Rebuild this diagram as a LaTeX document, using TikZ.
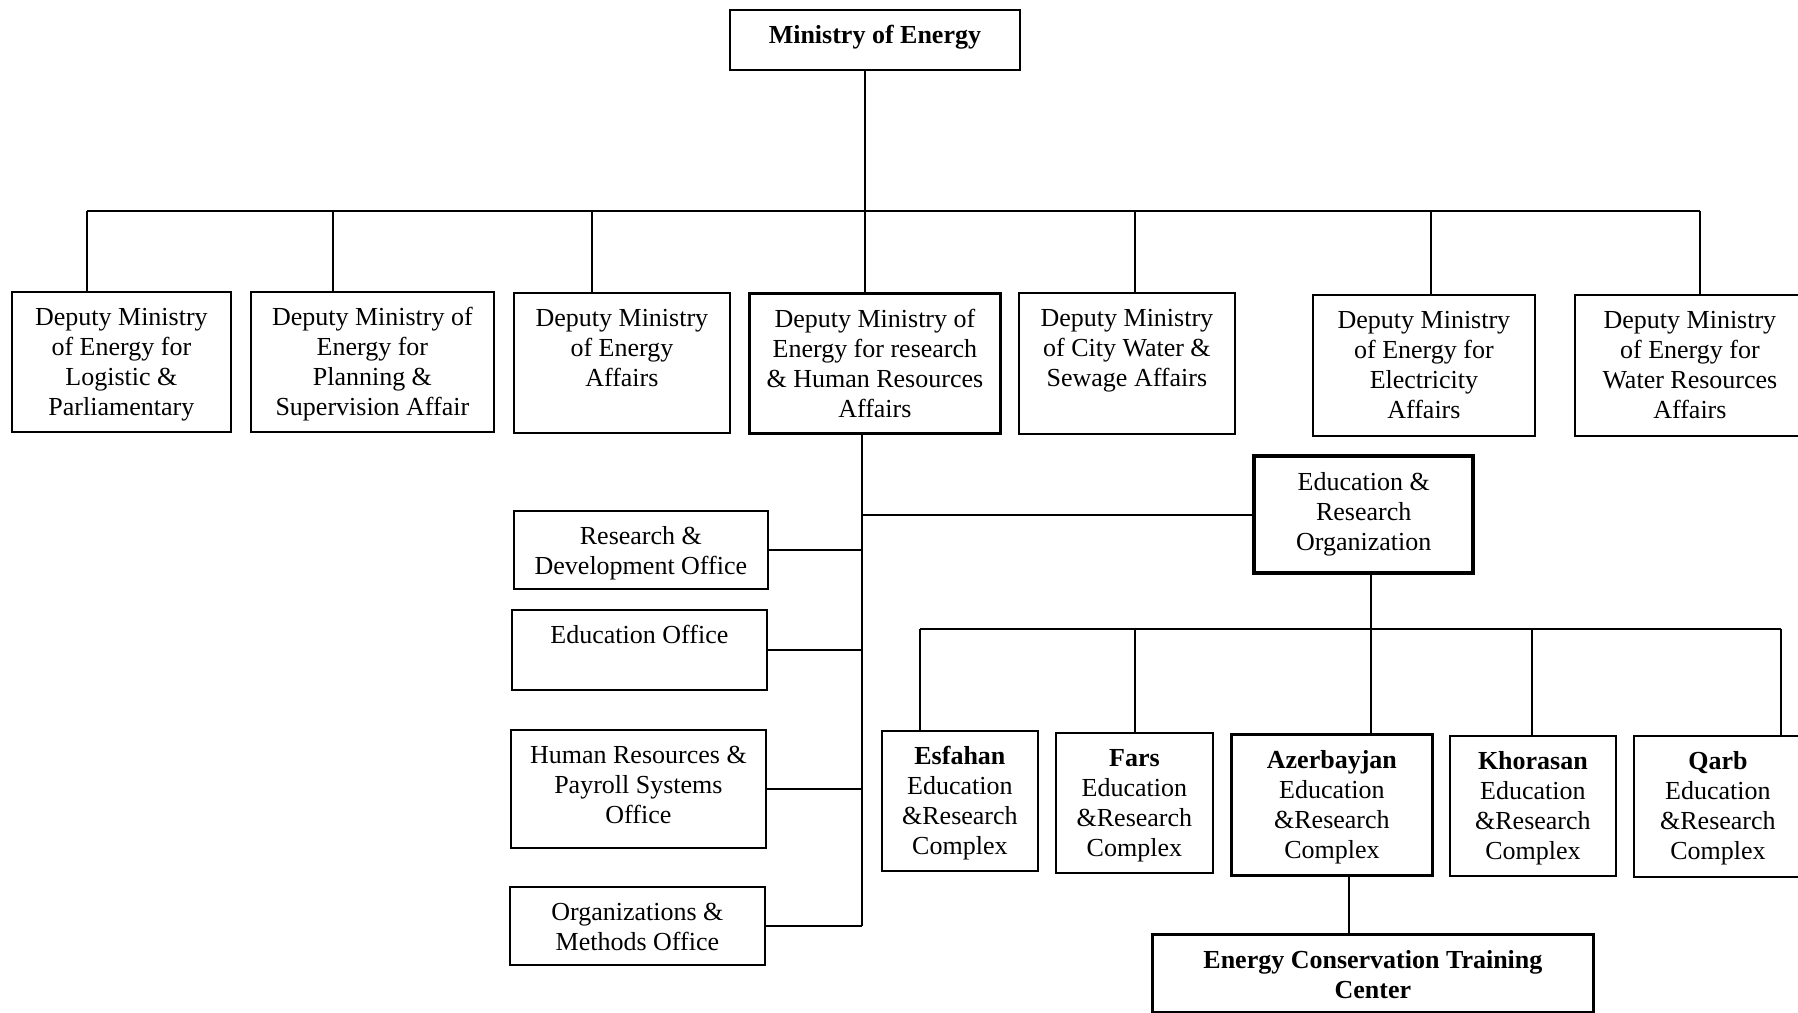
\documentclass[tikz,border=0pt]{standalone}
\usepackage{fontspec}
\setmainfont{Liberation Serif}
\newcommand{\bt}[3]{\parbox[c][#2pt][t]{#1pt}{\centering\rule{0pt}{17pt}#3}}
\tikzset{
  box/.style={draw, line width=0.9pt, inner sep=0pt, anchor=north west, font=\fontsize{13}{15}\selectfont},
  thickbox/.style={box, line width=1.4pt},
  heavybox/.style={box, line width=2.2pt},
  conn/.style={line width=0.7pt},
  bus/.style={line width=1pt}
}
\begin{document}
\begin{tikzpicture}[x=1pt,y=-1pt]
\useasboundingbox (0,0) rectangle (899,506);
% top
\node[box] (M) at (364.5,4.5) {\bt{145}{30}{\textbf{Ministry of Energy}}};
% level 2
\node[box] (B1) at (5.5,145.5) {\bt{109.5}{70}{Deputy Ministry\\ of Energy for\\ Logistic \&\\ Parliamentary}};
\node[box] (B2) at (125,145.5) {\bt{121.5}{70}{Deputy Ministry of\\ Energy for\\ Planning \&\\ Supervision Affair}};
\node[box] (B3) at (256.5,146) {\bt{108}{70}{Deputy Ministry\\ of Energy\\ Affairs}};
\node[thickbox] (B4) at (374,146) {\bt{125.5}{70}{Deputy Ministry of\\ Energy for research\\ \& Human Resources\\ Affairs}};
\node[box] (B5) at (509,146) {\bt{108}{70.5}{Deputy Ministry\\ of City Water \&\\ Sewage Affairs}};
\node[box] (B6) at (656,147) {\bt{111}{70.5}{Deputy Ministry\\ of Energy for\\ Electricity\\ Affairs}};
\node[box] (B7) at (787,147) {\bt{115}{70.5}{Deputy Ministry\\ of Energy for\\ Water Resources\\ Affairs}};
% left column
\node[box] (RD) at (256.5,255) {\bt{127}{39}{Research \&\\ Development Office}};
\node[box] (EO) at (255.5,304.5) {\bt{127.5}{40}{Education Office}};
\node[box] (HR) at (255,364.5) {\bt{127.5}{59}{Human Resources \&\\ Payroll Systems\\ Office}};
\node[box] (OM) at (254.5,443) {\bt{127.5}{39}{Organizations \&\\ Methods Office}};
% education & research organization
\node[heavybox] (ERO) at (626,227) {\bt{109.5}{58.5}{Education \&\\ Research\\ Organization}};
% level 4
\node[box] (ES) at (440.5,365) {\bt{78}{70}{\textbf{Esfahan}\\ Education\\ \&Research\\ Complex}};
\node[box] (FA) at (527.5,366) {\bt{78.5}{70}{\textbf{Fars}\\ Education\\ \&Research\\ Complex}};
\node[thickbox] (AZ) at (615,366.5) {\bt{100.5}{70.5}{\textbf{Azerbayjan}\\ Education\\ \&Research\\ Complex}};
\node[box] (KH) at (724.5,367.5) {\bt{83}{70}{\textbf{Khorasan}\\ Education\\ \&Research\\ Complex}};
\node[box] (QA) at (816.5,367.5) {\bt{84}{70.5}{\textbf{Qarb}\\ Education\\ \&Research\\ Complex}};
% energy conservation
\node[thickbox] (EC) at (575.5,466.5) {\bt{220.5}{39}{\textbf{Energy Conservation Training\\ Center}}};
% coordinates
\coordinate (mx) at (432.5,105.5);
\coordinate (b2l) at (43.5,105.5);
\coordinate (b2r) at (850,105.5);
\coordinate (sp) at (431,0);
\coordinate (ex) at (685.5,314.5);
\coordinate (b4l) at (460,314.5);
\coordinate (b4r) at (890.5,314.5);
\coordinate (azx) at (674.5,0);
% top connectors
\draw[conn] (M.south -| mx) -- (mx);
\draw[bus] (b2l) -- (b2r);
\draw[conn] (b2l) -- (b2l |- B1.north);
\draw[conn] (166.5,105.5) -- (B2.north -| 166.5,0);
\draw[conn] (296,105.5) -- (B3.north -| 296,0);
\draw[conn] (mx) -- (B4.north -| mx);
\draw[conn] (567.5,105.5) -- (B5.north -| 567.5,0);
\draw[conn] (715.5,105.5) -- (B6.north -| 715.5,0);
\draw[conn] (b2r) -- (B7.north -| b2r);
% spine
\draw[conn] (B4.south -| sp) -- (sp |- OM.east);
\draw[conn] (RD.east) -- (RD.east -| sp);
\draw[conn] (EO.east) -- (EO.east -| sp);
\draw[conn] (HR.east) -- (HR.east -| sp);
\draw[conn] (OM.east) -- (OM.east -| sp);
\draw[bus] (ERO.west) -- (ERO.west -| sp);
% level 4 connectors
\draw[conn] (ERO.south -| ex) -- (AZ.north -| ex);
\draw[bus] (b4l) -- (b4r);
\draw[conn] (b4l) -- (ES.north -| b4l);
\draw[conn] (567.5,314.5) -- (FA.north -| 567.5,0);
\draw[conn] (766,314.5) -- (KH.north -| 766,0);
\draw[conn] (b4r) -- (QA.north -| b4r);
\draw[conn] (AZ.south -| azx) -- (EC.north -| azx);
\end{tikzpicture}
\end{document}
